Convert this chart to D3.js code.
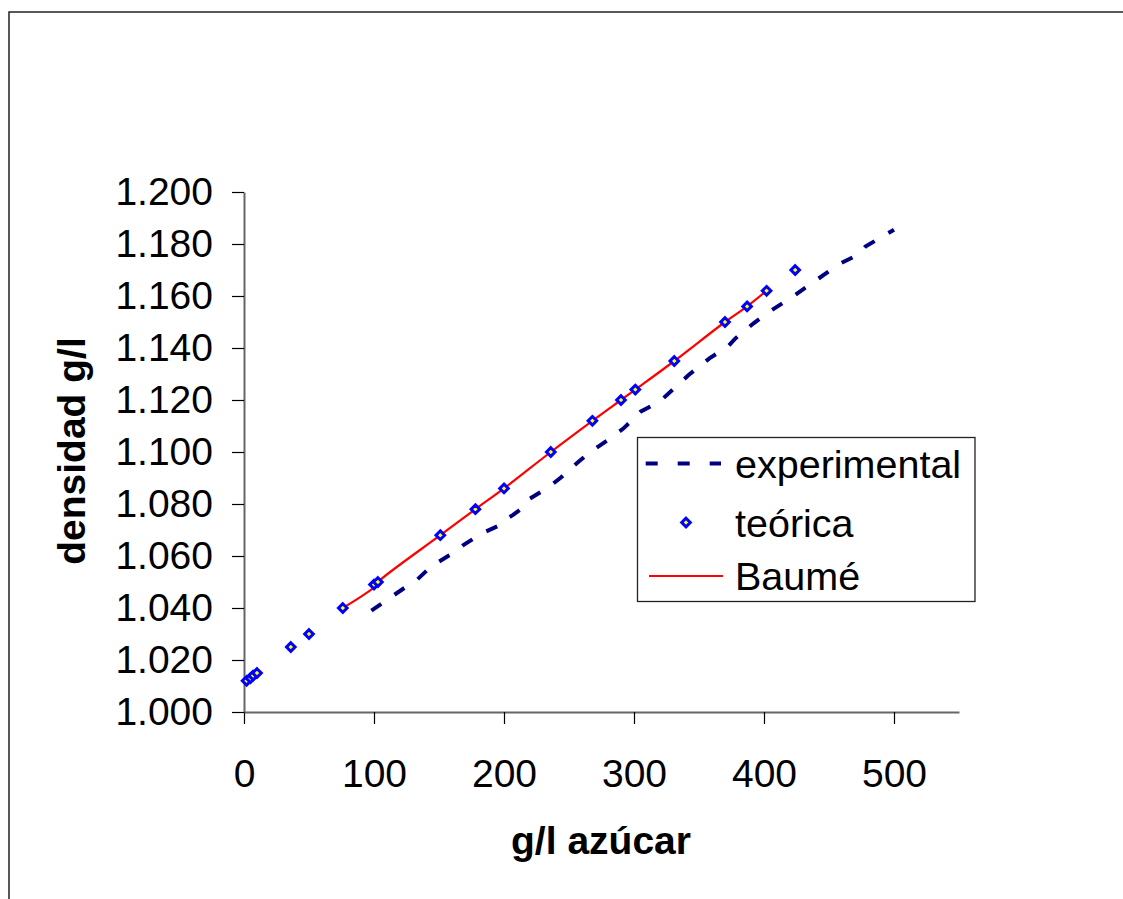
<!DOCTYPE html>
<html>
<head>
<meta charset="utf-8">
<script src="https://cdn.jsdelivr.net/npm/d3@7"></script>
<style>
  body { margin: 0; background: #fff; }
  text { font-family: Arial, 'Liberation Sans', sans-serif; fill: #000; }
</style>
</head>
<body>
<script>
/* experimental series: sugar g/l and measured density */
var expSugar = [98, 123, 133, 144, 157, 163, 169, 183, 197, 200, 207, 213, 218,
                235, 244, 250, 258, 265, 282, 292, 300, 305, 320, 342, 358, 372,
                378, 392, 406, 424, 441, 459, 473, 478, 500];
var expDensity = [1.0390, 1.0476, 1.0508, 1.0560, 1.0600, 1.0617, 1.0643, 1.0687,
                  1.0719, 1.0738, 1.0758, 1.0780, 1.0815, 1.0867, 1.0903, 1.0931,
                  1.0965, 1.0995, 1.1053, 1.1091, 1.1130, 1.1155, 1.1195, 1.1296,
                  1.1360, 1.1405, 1.1437, 1.1495, 1.1546, 1.1604, 1.1664, 1.1726,
                  1.1760, 1.1790, 1.1855];

/* theoretical series */
var teoSugar = [2, 5, 7, 10, 36, 50, 76, 100, 103, 151, 178, 200, 236, 268,
                290, 301, 331, 370, 387, 402, 424];
var teoDensity = [1.012, 1.013, 1.014, 1.015, 1.025, 1.030, 1.040, 1.049, 1.050,
                  1.068, 1.078, 1.086, 1.100, 1.112, 1.120, 1.124, 1.135, 1.150,
                  1.156, 1.162, 1.170];

/* Baumé series (smoothed line) */
var baumeSugar = [76, 100, 103, 151, 178, 200, 236, 268, 290, 301, 331, 370, 387, 402];
var baumeDensity = [1.040, 1.048, 1.050, 1.068, 1.078, 1.086, 1.100, 1.112, 1.120,
                    1.124, 1.135, 1.150, 1.156, 1.162];

var xTicks = [0, 100, 200, 300, 400, 500];
var yTicks = [1.000, 1.020, 1.040, 1.060, 1.080, 1.100, 1.120, 1.140, 1.160, 1.180, 1.200];
var seriesNames = ['experimental', 'teórica', 'Baumé'];

var width = 1123, height = 899;

var svg = d3.select('body')
    .append('svg')
    .attr('width', width)
    .attr('height', height);

/* chart area border (runs off the right and bottom of the picture) */
svg.append('rect')
    .attr('x', 9)
    .attr('y', 12)
    .attr('width', 1300)
    .attr('height', 1000)
    .attr('fill', '#fff')
    .attr('stroke', '#222')
    .attr('stroke-width', 1.5);

var x = d3.scaleLinear().domain([0, 550]).range([244, 959]);
var y = d3.scaleLinear().domain([1.0, 1.2]).range([712, 192]);

/* axes */
var xAxis = svg.append('g')
    .attr('transform', 'translate(0,712)')
    .call(d3.axisBottom(x)
          .tickValues(xTicks)
          .tickSize(12)
          .tickSizeOuter(0)
          .tickPadding(35));

var yAxis = svg.append('g')
    .attr('transform', 'translate(244,0)')
    .call(d3.axisLeft(y)
          .tickValues(yTicks)
          .tickFormat(d3.format('.3f'))
          .tickSize(12)
          .tickSizeOuter(0)
          .tickPadding(19));

[xAxis, yAxis].forEach(function (g) {
    g.attr('font-size', 39).attr('font-family', null);
    g.select('.domain').attr('stroke', '#666').attr('stroke-width', 2);
    g.selectAll('.tick line').attr('stroke', '#000').attr('stroke-width', 1.2);
});

/* axis titles */
svg.append('text')
    .attr('x', 601)
    .attr('y', 854)
    .attr('text-anchor', 'middle')
    .attr('font-size', 39)
    .attr('font-weight', 'bold')
    .text('g/l azúcar');

svg.append('text')
    .attr('transform', 'translate(85,451) rotate(-90)')
    .attr('text-anchor', 'middle')
    .attr('font-size', 39)
    .attr('font-weight', 'bold')
    .text('densidad g/l');

/* experimental dashed line */
var straight = d3.line()
    .x(function (d) { return x(d[0]); })
    .y(function (d) { return y(d[1]); });

svg.append('path')
    .datum(d3.zip(expSugar, expDensity))
    .attr('d', straight)
    .attr('fill', 'none')
    .attr('stroke', '#000080')
    .attr('stroke-width', 4)
    .attr('stroke-dasharray', '12,16');

/* Baumé smoothed line */
var smooth = d3.line()
    .curve(d3.curveCatmullRom.alpha(0.5))
    .x(function (d) { return x(d[0]); })
    .y(function (d) { return y(d[1]); });

svg.append('path')
    .datum(d3.zip(baumeSugar, baumeDensity))
    .attr('d', smooth)
    .attr('fill', 'none')
    .attr('stroke', '#ff0000')
    .attr('stroke-width', 2.2);

/* theoretical diamonds */
function diamond(r) {
    return 'M0,' + (-r) + 'L' + r + ',0L0,' + r + 'L' + (-r) + ',0Z';
}

svg.append('g')
    .selectAll('path')
    .data(d3.zip(teoSugar, teoDensity))
    .enter()
    .append('path')
    .attr('transform', function (d) {
        return 'translate(' + x(d[0]) + ',' + y(d[1]) + ')';
    })
    .attr('d', diamond(4.3))
    .attr('fill', '#ffff00')
    .attr('stroke', '#0000ff')
    .attr('stroke-width', 3);

/* legend */
var legend = svg.append('g');
legend.append('rect')
    .attr('x', 637.5)
    .attr('y', 437.5)
    .attr('width', 337.5)
    .attr('height', 164)
    .attr('fill', '#fff')
    .attr('stroke', '#222')
    .attr('stroke-width', 1.3);

var rowY = [463.5, 522.5, 576];

legend.append('line')
    .attr('x1', 645.7).attr('x2', 721)
    .attr('y1', rowY[0]).attr('y2', rowY[0])
    .attr('stroke', '#000080')
    .attr('stroke-width', 4)
    .attr('stroke-dasharray', '12,20');

legend.append('path')
    .attr('transform', 'translate(686,' + rowY[1] + ')')
    .attr('d', diamond(4.3))
    .attr('fill', '#ffff00')
    .attr('stroke', '#0000ff')
    .attr('stroke-width', 3);

legend.append('line')
    .attr('x1', 649).attr('x2', 723)
    .attr('y1', rowY[2]).attr('y2', rowY[2])
    .attr('stroke', '#ff0000')
    .attr('stroke-width', 2.2);

legend.selectAll('text.item')
    .data(seriesNames)
    .enter()
    .append('text')
    .attr('class', 'item')
    .attr('x', 735)
    .attr('y', function (d, i) { return rowY[i] + 14; })
    .attr('font-size', 39.5)
    .text(function (d) { return d; });
</script>
</body>
</html>
